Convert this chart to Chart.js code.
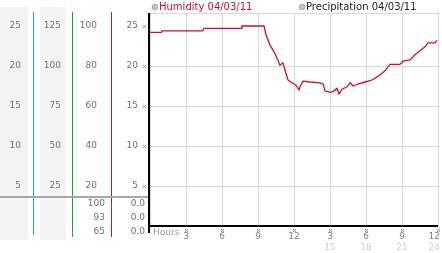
<!DOCTYPE html>
<html lang="en">
<head>
  <meta charset="UTF-8">
  <title>Humidity 04/03/11</title>
  <style>
    body {
      margin: 0;
      background-color: white;
    }
    .wrap {
      width: 442px;
      height: 253px;
      position: relative;
    }
  </style>
  <script src="https://cdn.jsdelivr.net/npm/chart.js"></script>
</head>
<body>
  <div class="wrap">
    <canvas id="humChart" width="442" height="253"></canvas>
  </div>

  <script>
    // hours since midnight and humidity readings
    const hours = [0, 0.95, 1.0, 4.4, 4.45, 4.5, 7.6, 7.65, 9.5, 9.67, 10.0, 10.4, 10.83, 11.08, 11.25, 11.5,
      11.83, 12.17, 12.42, 12.5, 12.75, 13.33, 14.17, 14.42, 14.58, 15.0, 15.25, 15.58, 15.75, 16.0, 16.42,
      16.67, 16.92, 17.33, 17.92, 18.5, 19.0, 19.58, 20.0, 20.83, 21.08, 21.67, 22.08, 22.5, 22.92, 23.17,
      23.75, 23.92];
    const humidity = [24.2, 24.2, 24.4, 24.4, 24.6, 24.7, 24.7, 25.0, 25.0, 23.9, 22.6, 21.6, 20.1, 20.4, 19.5, 18.25,
      17.9, 17.6, 17.0, 17.4, 18.1, 18.0, 17.9, 17.75, 16.9, 16.7, 16.8, 17.2, 16.5, 17.1, 17.4,
      17.9, 17.5, 17.75, 18.0, 18.25, 18.7, 19.4, 20.2, 20.2, 20.6, 20.75, 21.4, 21.9, 22.4, 22.9,
      22.9, 23.2];

    // left panel scale columns (rows at y values 25, 20, 15, 10, 5)
    const rowValues = [25, 20, 15, 10, 5];
    const colA = ['25', '20', '15', '10', '5'];
    const colB = ['125', '100', '75', '50', '25'];
    const colC = ['100', '80', '60', '40', '20'];
    const colD = ['25', '20', '15', '10', '5'];
    const humStats = ['100', '93', '65'];
    const precipStats = ['0.0', '0.0', '0.0'];

    // x axis labels
    const xTickValues = [3, 6, 9, 12, 15, 18, 21, 24];
    const xTickLabels = ['3', '6', '9', '12', '3', '6', '9', '12'];
    const xTickLabels2 = ['', '', '', '', '15', '18', '21', '24'];

    const FONT = '9px "DejaVu Sans", sans-serif';
    const LABEL = '#707070';

    function mark(ctx, x, y) {
      ctx.save();
      ctx.fillStyle = '#999';
      ctx.fillRect(x, y, 1, 1);
      ctx.fillRect(x + 2, y, 1, 1);
      ctx.fillRect(x + 1, y + 1, 1, 1);
      ctx.fillRect(x, y + 2, 1, 1);
      ctx.fillRect(x + 2, y + 2, 1, 1);
      ctx.restore();
    }

    const panelPlugin = {
      id: 'panel',
      beforeDraw(chart) {
        const ctx = chart.ctx;
        ctx.save();
        ctx.fillStyle = '#f4f4f4';
        ctx.fillRect(0, 7, 28, 233);
        ctx.fillRect(40, 7, 26, 233);
        ctx.restore();
      },
      afterDraw(chart) {
        const ctx = chart.ctx;
        const y = chart.scales.y;
        const x = chart.scales.x;
        const area = chart.chartArea;
        ctx.save();

        // coloured column lines
        const lines = [[33, '#2a9fd6', 235], [72, '#22a022', 237], [111, '#c02020', 237]];
        lines.forEach(([lx, c, end]) => {
          ctx.fillStyle = c;
          ctx.fillRect(lx, 12, 1, end - 12);
        });

        // grey separator
        ctx.fillStyle = '#a8a8a8';
        ctx.fillRect(0, 196, area.left, 2);

        // row labels
        ctx.font = FONT;
        ctx.textAlign = 'right';
        ctx.textBaseline = 'middle';
        rowValues.forEach((v, i) => {
          const py = y.getPixelForValue(v);
          ctx.fillStyle = LABEL;
          ctx.fillText(colA[i], 21, py);
          ctx.fillText(colB[i], 61, py);
          ctx.fillText(colC[i], 97, py);
          ctx.fillText(colD[i], 138, py);
          mark(ctx, 143, Math.round(py) - 1);
        });
        ctx.fillStyle = LABEL;
        humStats.forEach((s, i) => {
          const py = 204 + i * 14;
          ctx.fillText(s, 105, py);
          ctx.fillText(precipStats[i], 145, py);
        });

        // axes
        ctx.fillStyle = '#000';
        ctx.fillRect(area.left - 2, area.top, 2, 220);
        ctx.fillRect(area.left - 2, area.bottom - 1, area.right - area.left + 2, 2);

        // x labels
        ctx.fillStyle = '#999';
        ctx.textAlign = 'left';
        ctx.fillText('Hours', 153, 233);
        xTickValues.forEach((v, i) => {
          const px = x.getPixelForValue(v);
          const last = i === xTickValues.length - 1;
          ctx.textAlign = last ? 'right' : 'center';
          const tx = last ? 440 : px;
          mark(ctx, Math.round(px) - 1, 229);
          ctx.fillStyle = '#808080';
          ctx.fillText(xTickLabels[i], tx, 237);
          ctx.fillStyle = '#d0d0d0';
          ctx.fillText(xTickLabels2[i], tx, 248);
        });

        // legend
        ctx.textAlign = 'left';
        const legend = [['Humidity 04/03/11', '#cc1122', 155], ['Precipitation 04/03/11', '#222', 302]];
        legend.forEach(([t, c, lx]) => {
          ctx.beginPath();
          ctx.arc(lx, 7, 2.8, 0, Math.PI * 2);
          ctx.fillStyle = '#c4c4c4';
          ctx.fill();
          ctx.strokeStyle = '#999';
          ctx.lineWidth = 0.8;
          ctx.stroke();
          ctx.font = '10px "DejaVu Sans", sans-serif';
          ctx.fillStyle = c;
          ctx.fillText(t, lx + 4, 7);
        });
        ctx.restore();
      }
    };

    const ctx = document.getElementById('humChart').getContext('2d');
    const humChart = new Chart(ctx, {
      type: 'line',
      data: {
        datasets: [{
          label: 'Humidity 04/03/11',
          data: hours.map((h, i) => ({ x: h, y: humidity[i] })),
          borderColor: '#cc1122',
          borderWidth: 1.3,
          pointRadius: 0,
          tension: 0,
          fill: false
        }]
      },
      options: {
        responsive: false,
        animation: false,
        devicePixelRatio: 1,
        layout: {
          padding: { left: 150, right: 4, top: 13, bottom: 27 }
        },
        scales: {
          x: {
            type: 'linear',
            min: 0,
            max: 24,
            ticks: { display: false, stepSize: 3 },
            grid: { color: '#d9d9d9', drawTicks: false },
            border: { display: false },
            afterFit: (s) => { s.height = 0; }
          },
          y: {
            min: 0,
            max: 26.625,
            ticks: { display: false, stepSize: 5 },
            grid: { color: '#d9d9d9', drawTicks: false },
            border: { display: false },
            afterFit: (s) => { s.width = 0; }
          }
        },
        plugins: {
          legend: { display: false },
          tooltip: { enabled: false }
        }
      },
      plugins: [panelPlugin]
    });
  </script>
</body>
</html>
